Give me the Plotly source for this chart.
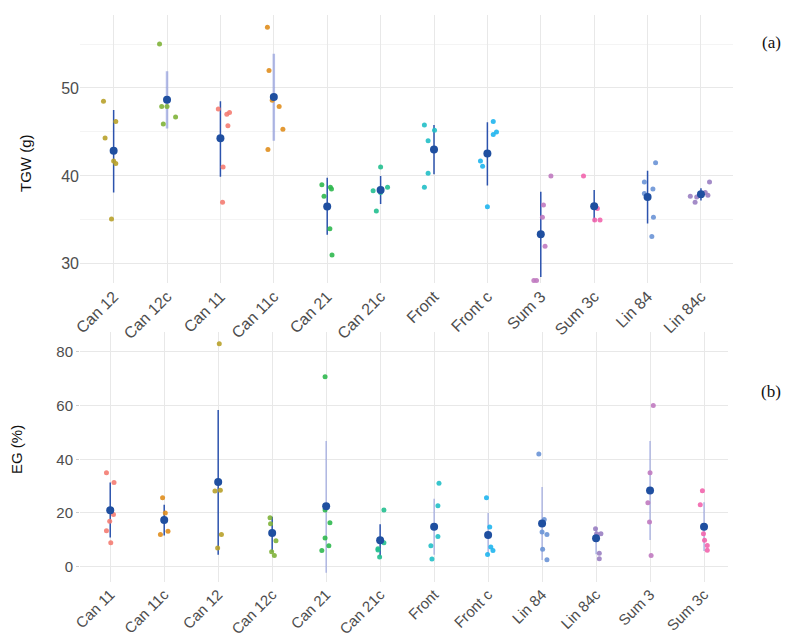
"""
TGW and EG by line: individual plots (jittered), mean and +/- SD bar.
Two stacked panels, (a) TGW and (b) EG.
"""
import plotly.graph_objects as go

# ---- panel (a): thousand grain weight ----
cats_top = ["Can 12", "Can 12c", "Can 11", "Can 11c", "Can 21", "Can 21c",
            "Front", "Front c", "Sum 3", "Sum 3c", "Lin 84", "Lin 84c"]

tgw_values = [
    [48.5, 46.2, 44.3, 41.7, 41.4, 35.1],
    [55.0, 47.9, 47.9, 45.9, 46.7],
    [47.6, 47.0, 47.2, 45.7, 41.0, 37.0],
    [56.9, 52.0, 48.6, 47.9, 45.3, 43.0],
    [39.0, 37.7, 38.7, 38.5, 34.0, 31.0],
    [41.0, 38.3, 38.7, 38.1, 36.0],
    [45.8, 45.2, 44.0, 40.3, 38.7],
    [46.2, 45.0, 44.7, 41.7, 41.1, 36.5],
    [40.0, 36.7, 35.3, 32.0, 28.1, 28.1],
    [40.0, 36.3, 35.0, 35.0],
    [41.5, 39.3, 38.5, 38.0, 35.3, 33.1],
    [39.3, 37.7, 37.6, 38.1, 37.8, 37.0],
]
# horizontal jitter (category units)
tgw_jitter = [
    [-0.19, 0.04, -0.16, 0.0, 0.04, -0.04],
    [-0.14, -0.10, 0.0, -0.07, 0.16],
    [-0.04, 0.12, 0.17, 0.14, 0.05, 0.04],
    [-0.12, -0.09, -0.03, 0.10, 0.17, -0.11],
    [-0.10, -0.06, 0.06, 0.08, 0.05, 0.09],
    [0.0, -0.14, 0.13, 0.0, -0.08],
    [-0.18, 0.01, -0.11, -0.11, -0.18],
    [0.11, 0.17, 0.11, -0.13, -0.09, 0.0],
    [0.19, 0.05, 0.03, 0.08, -0.13, -0.08],
    [-0.20, 0.06, 0.01, 0.11],
    [0.15, -0.06, 0.10, -0.06, 0.11, 0.08],
    [0.16, -0.20, -0.08, 0.08, 0.13, -0.11],
]
tgw_mean = [42.85, 48.67, 44.28, 48.98, 36.52, 38.41, 42.99, 42.54, 33.37, 36.55, 37.61, 37.92]
tgw_lo = [38.1, 45.4, 39.9, 44.0, 33.3, 36.8, 40.2, 38.9, 28.5, 34.8, 34.6, 37.2]
tgw_hi = [47.5, 51.9, 48.5, 53.9, 39.8, 40.0, 45.8, 46.1, 38.2, 38.4, 40.6, 38.6]

# ---- panel (b): EG ----
cats_bot = ["Can 11", "Can 11c", "Can 12", "Can 12c", "Can 21", "Can 21c",
            "Front", "Front c", "Lin 84", "Lin 84c", "Sum 3", "Sum 3c"]

eg_values = [
    [35.0, 31.3, 19.4, 16.9, 13.4, 8.9],
    [25.7, 20.0, 12.0, 13.2],
    [83.0, 28.2, 28.5, 12.0, 7.0],
    [18.2, 16.0, 9.7, 5.6, 4.2],
    [70.7, 21.1, 16.4, 10.7, 7.8, 6.0],
    [21.1, 8.9, 6.7, 6.2, 3.6],
    [31.1, 22.7, 11.2, 7.8, 2.9],
    [25.7, 14.8, 7.3, 6.0, 4.5],
    [42.0, 17.6, 12.9, 12.0, 6.5, 2.6],
    [14.1, 12.3, 12.3, 5.0, 3.0],
    [60.0, 35.0, 23.8, 16.6, 4.2],
    [28.3, 23.1, 12.3, 9.8, 7.9, 6.1],
]
eg_jitter = [
    [-0.07, 0.07, 0.06, -0.01, -0.07, 0.01],
    [-0.03, 0.02, -0.07, 0.07],
    [0.02, -0.06, 0.04, 0.06, -0.01],
    [-0.04, -0.03, 0.07, -0.01, 0.04],
    [-0.02, -0.02, 0.07, -0.02, 0.05, -0.08],
    [0.07, 0.07, -0.04, -0.04, -0.01],
    [0.09, 0.07, 0.07, -0.06, -0.04],
    [-0.03, 0.03, 0.05, 0.09, -0.01],
    [-0.06, 0.04, 0.0, 0.09, 0.01, 0.09],
    [-0.01, 0.01, 0.09, 0.06, 0.06],
    [0.06, 0.0, -0.04, -0.01, 0.02],
    [-0.03, -0.07, -0.01, 0.01, 0.06, 0.06],
]
eg_mean = [21.0, 17.4, 31.5, 12.5, 22.5, 9.8, 14.9, 11.8, 16.1, 10.6, 28.4, 14.9]
eg_lo = [10.9, 11.6, 4.4, 5.5, -2.3, 3.8, 4.4, 4.6, 2.5, 4.6, 9.9, 5.8]
eg_hi = [31.3, 23.1, 58.3, 18.6, 46.8, 15.8, 25.3, 20.0, 29.7, 14.7, 46.8, 24.0]

# colours per line (ggplot hue palette, as it looks in the picture)
colors = {
    "Can 11": "#f47c72", "Can 11c": "#e08e1e", "Can 12": "#b8a12a", "Can 12c": "#7fb23a",
    "Can 21": "#2fb84f", "Can 21c": "#22bf8f", "Front": "#22bfc6", "Front c": "#1fb5ee",
    "Lin 84": "#6a93d6", "Lin 84c": "#9a7fc2", "Sum 3": "#c07ac0", "Sum 3c": "#f265ad",
}
MEAN_COL = "#1f4fa0"
DARK_BAR = "#2c53ad"
LIGHT_BAR = "rgba(120,135,215,0.55)"
light_top = {"Can 12c", "Can 11c"}
light_bot = {"Can 21", "Front", "Front c", "Lin 84", "Lin 84c", "Sum 3", "Sum 3c"}

fig = go.Figure()


def add_panel(cats, values, jitter, means, lo, hi, light, xa, ya):
    for i, c in enumerate(cats):
        bar_col = LIGHT_BAR if c in light else DARK_BAR
        bar_w = 2.5 if (c in light and ya == "y") else 1.5
        fig.add_trace(go.Scatter(x=[i, i], y=[lo[i], hi[i]], mode="lines",
                                 line=dict(color=bar_col, width=bar_w),
                                 xaxis=xa, yaxis=ya, showlegend=False, hoverinfo="skip"))
        fig.add_trace(go.Scatter(x=[i + j for j in jitter[i]], y=values[i], mode="markers",
                                 marker=dict(color=colors[c], size=5, opacity=0.9),
                                 xaxis=xa, yaxis=ya, showlegend=False, name=c))
        fig.add_trace(go.Scatter(x=[i], y=[means[i]], mode="markers",
                                 marker=dict(color=MEAN_COL, size=8),
                                 xaxis=xa, yaxis=ya, showlegend=False, name=c + " mean"))


add_panel(cats_top, tgw_values, tgw_jitter, tgw_mean, tgw_lo, tgw_hi, light_top, "x", "y")
add_panel(cats_bot, eg_values, eg_jitter, eg_mean, eg_lo, eg_hi, light_bot, "x2", "y2")

GRID = "#e8e8e8"
tick_font = dict(family="Liberation Sans", size=16, color="#4d4d4d")

# the page adds an 8px body margin, so the figure is drawn 8px smaller
fig.update_layout(
    width=786, height=635,
    margin=dict(l=72, r=61, t=7, b=61),
    paper_bgcolor="white", plot_bgcolor="white",
    font=dict(family="Liberation Sans", color="#222"),
    xaxis=dict(domain=[0, 1], anchor="y", range=[-0.63, 11.6], automargin=False,
               tickvals=list(range(len(cats_top))), ticktext=cats_top,
               tickangle=-45, tickfont=tick_font, showgrid=True, gridcolor=GRID,
               zeroline=False, showline=False, ticks=""),
    yaxis=dict(domain=[0.527, 1], anchor="x", range=[27.8, 58.3], automargin=False,
               tickvals=[30, 40, 50], tickfont=tick_font, showgrid=True, gridcolor=GRID,
               minor=dict(tickvals=[35, 45, 55], showgrid=True, gridcolor="#f4f4f4"),
               zeroline=False, showline=False, ticks=""),
    xaxis2=dict(domain=[0, 0.992], anchor="y2", range=[-0.56, 11.44], automargin=False,
                tickvals=list(range(len(cats_bot))), ticktext=cats_bot,
                tickangle=-45, tickfont=dict(tick_font, size=15), showgrid=True, gridcolor=GRID,
                zeroline=False, showline=False, ticks=""),
    yaxis2=dict(domain=[0, 0.441], anchor="x2", range=[-5.7, 87.4], automargin=False,
                tickvals=[0, 20, 40, 60, 80], tickfont=dict(tick_font, size=15),
                showgrid=True, gridcolor=GRID, zeroline=False, showline=False,
                ticks="outside", ticklen=3, tickcolor="#cccccc"),
)

# axis titles and panel tags
fig.add_annotation(text="TGW (g)", xref="paper", yref="paper", x=(25 - 80) / 653,
                   y=1 - (163 - 15) / 567, xanchor="center", yanchor="middle",
                   showarrow=False, textangle=-90, font=dict(size=15, color="#111"))
fig.add_annotation(text="EG (%)", xref="paper", yref="paper", x=(16 - 80) / 653,
                   y=1 - (450 - 15) / 567, xanchor="center", yanchor="middle",
                   showarrow=False, textangle=-90, font=dict(size=15, color="#111"))
fig.add_annotation(text="(a)", xref="paper", yref="paper", x=(771 - 80) / 653,
                   y=1 - (42 - 15) / 567, xanchor="center", yanchor="middle", showarrow=False,
                   font=dict(family="Liberation Serif", size=17, color="#111"))
fig.add_annotation(text="(b)", xref="paper", yref="paper", x=(771 - 80) / 653,
                   y=1 - (391 - 15) / 567, xanchor="center", yanchor="middle", showarrow=False,
                   font=dict(family="Liberation Serif", size=17, color="#111"))

fig.write_html("out.html")
